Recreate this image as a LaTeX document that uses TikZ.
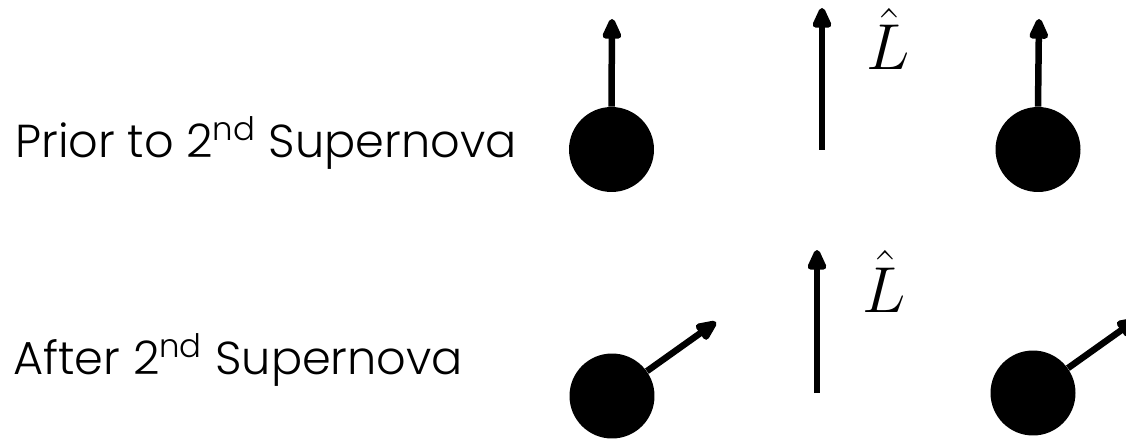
\RequirePackage{fix-cm}
\documentclass[tikz,border=0pt]{standalone}
\usepackage{fontspec}
\setmainfont{Poppins}[UprightFont=* Light]
\usepackage{tikz}
\usetikzlibrary{arrows.meta}

\begin{document}
\begin{tikzpicture}[
        x=0.02cm, y=-0.02cm,
        nstar/.style={circle, fill=black, inner sep=0pt, minimum size=1.7cm},
        spin/.style={-{Triangle[length=0.5cm, width=0.4cm, round]}, line width=0.13cm},
        rowlabel/.style={anchor=base west, inner sep=0pt, font=\fontsize{26.3}{30}\selectfont},
        lhat/.style={anchor=base west, inner sep=0pt, font=\fontsize{37}{40}\selectfont},
    ]
        \useasboundingbox (0,0) rectangle (1126,439);

        % Top row: before the second supernova
        \node[rowlabel] (prior) at (15,157) {Prior to 2\textsuperscript{nd} Supernova};
        \node[nstar] (a1) at (611.5,149.5) {};
        \node[nstar] (b1) at (1038,149.5) {};
        \coordinate (a1tip) at (612,19);
        \coordinate (b1tip) at (1039,19);
        \coordinate (lbot1) at (822,150);
        \coordinate (ltop1) at (822,8);
        \node[lhat] (l1) at (866,70) {$\hat{L}$};

        \draw[spin] (a1.north) -- (a1tip);
        \draw[spin] (b1.north) -- (b1tip);
        \draw[spin] (lbot1) -- (ltop1);

        % Bottom row: spins tilted after the kick
        \node[rowlabel] (after) at (13,374) {After 2\textsuperscript{nd} Supernova};
        \node[nstar] (a2) at (612,396) {};
        \node[nstar] (b2) at (1033,393) {};
        \coordinate (a2tip) at (716,322);
        \coordinate (b2tip) at (1137,319);
        \coordinate (lbot2) at (817,393);
        \coordinate (ltop2) at (817,250);
        \node[lhat] (l2) at (862,312) {$\hat{L}$};

        \draw[spin] (a2) -- (a2tip);
        \draw[spin] (b2) -- (b2tip);
        \draw[spin] (lbot2) -- (ltop2);
\end{tikzpicture}
\end{document}
